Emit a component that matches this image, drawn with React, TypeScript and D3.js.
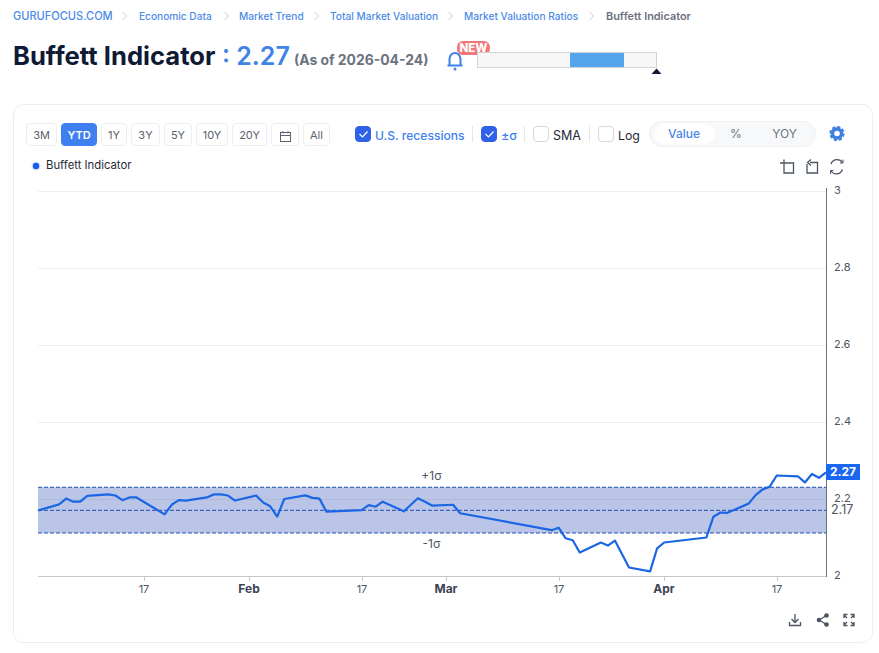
import React from "react";
import * as d3 from "d3";

const dates = ["2026-01-02","2026-01-05","2026-01-06","2026-01-07","2026-01-08","2026-01-09","2026-01-12","2026-01-13","2026-01-14","2026-01-15","2026-01-16","2026-01-20","2026-01-21","2026-01-22","2026-01-23","2026-01-26","2026-01-27","2026-01-28","2026-01-29","2026-01-30","2026-02-02","2026-02-03","2026-02-04","2026-02-05","2026-02-06","2026-02-09","2026-02-10","2026-02-11","2026-02-12","2026-02-17","2026-02-18","2026-02-19","2026-02-20","2026-02-23","2026-02-24","2026-02-25","2026-02-26","2026-02-27","2026-03-02","2026-03-03","2026-03-16","2026-03-17","2026-03-18","2026-03-19","2026-03-20","2026-03-23","2026-03-24","2026-03-25","2026-03-27","2026-03-30","2026-03-31","2026-04-01","2026-04-07","2026-04-08","2026-04-09","2026-04-10","2026-04-13","2026-04-14","2026-04-15","2026-04-16","2026-04-17","2026-04-20","2026-04-21","2026-04-22","2026-04-23","2026-04-24"];
const values = [2.170,2.186,2.201,2.193,2.193,2.208,2.212,2.209,2.197,2.204,2.204,2.160,2.185,2.197,2.196,2.204,2.212,2.212,2.209,2.196,2.209,2.191,2.181,2.154,2.200,2.2095,2.203,2.201,2.167,2.171,2.184,2.180,2.193,2.168,2.185,2.202,2.193,2.183,2.185,2.163,2.119,2.1255,2.098,2.093,2.061,2.087,2.079,2.092,2.022,2.012,2.072,2.087,2.100,2.154,2.165,2.164,2.188,2.210,2.225,2.232,2.261,2.259,2.243,2.265,2.255,2.269];
const gridTicks = [2, 2.2, 2.4, 2.6, 2.8, 3];
const sigma = { upper: 2.2305, mean: 2.1706, lower: 2.1117 };
const xTicks = [
  { date: "2026-01-17", label: "17", major: false },
  { date: "2026-02-01", label: "Feb", major: true },
  { date: "2026-02-17", label: "17", major: false },
  { date: "2026-03-01", label: "Mar", major: true },
  { date: "2026-03-17", label: "17", major: false },
  { date: "2026-04-01", label: "Apr", major: true },
  { date: "2026-04-17", label: "17", major: false },
];
const crumbs = [
  { t: "GURUFOCUS.COM", x: 13, s: 11.05 }, { t: "Economic Data", x: 139, s: 10.15 }, { t: "Market Trend", x: 239, s: 10.15 },
  { t: "Total Market Valuation", x: 330, s: 10.15 }, { t: "Market Valuation Ratios", x: 464, s: 10.15 },
];
const ranges = [
  { t: "3M", x: 26, w: 31 }, { t: "YTD", x: 61, w: 36 }, { t: "1Y", x: 101, w: 26 }, { t: "3Y", x: 131, w: 29 },
  { t: "5Y", x: 164, w: 28 }, { t: "10Y", x: 196, w: 32 }, { t: "20Y", x: 232, w: 35 }, { t: "", x: 271, w: 28 }, { t: "All", x: 303, w: 27 },
];

const FONT = "Inter, 'Noto Sans', sans-serif";
const parse = d3.utcParse("%Y-%m-%d");
const x = d3.scaleUtc().domain([parse("2026-01-02")!, parse("2026-04-24")!]).range([38, 826]);
const y = d3.scaleLinear().domain([2, 3]).range([576, 191]);
const line = d3.line<number>().x((_, i) => x(parse(dates[i])!)).y((v) => y(v));

function Check({ px, on }: { px: number; on: boolean }) {
  return (
    <g>
      <rect x={px + 0.5} y={126.5} width={15} height={15} rx={3.5} fill={on ? "#2f62e6" : "#fff"} stroke={on ? "#2f62e6" : "#d5d7db"} />
      {on && <path d={`M${px + 4.5} 134 l3 3 l5 -5.5`} fill="none" stroke="#fff" strokeWidth={1.2} />}
    </g>
  );
}

export default function App() {
  const bandX0 = x.range()[0], bandX1 = x.range()[1];
  const ic = { fill: "none", stroke: "#4b5563", strokeWidth: 1.3 };
  return (
    <svg width={879} height={653} style={{ position: "absolute", left: 0, top: 0, fontFamily: FONT }}>
      <rect width={879} height={653} fill="#fff" />
      {crumbs.map((c) => (
        <text key={c.t} x={c.x} y={20} fontSize={c.s} fontWeight={500} fill="#4c8be8">{c.t}</text>
      ))}
      <text x={606} y={20} fontSize={10.9} fontWeight={600} fill="#6b7280">Buffett Indicator</text>
      {[124, 226, 316, 450, 591].map((cx) => (
        <path key={cx} d={`M${cx - 1.5} 12 l4 4 l-4 4`} fill="none" stroke="#c4c7cc" strokeWidth={1} />
      ))}
      <text x={13} y={65} fontSize={25.6} fontWeight={700} fill="#0f1a35">Buffett Indicator</text>
      <text x={222} y={65} fontSize={25} fontWeight={600} fill="#3f83e6">: 2.27</text>
      <text x={294} y={65} fontSize={13.9} fontWeight={700} fill="#6b7280">(As of 2026-04-24)</text>

      <path d="M449.5 65 v-6 a5.5 6 0 0 1 11 0 V65 M447.5 65.500 H462.500 M455 53.500 v-1" fill="none" stroke="#3f83e6" strokeWidth={2} />
      <circle cx={455} cy={69} r={1.5} fill="#3f83e6" />
      <rect x={457} y={41} width={33} height={14} rx={6} fill="#f0787a" />
      <text x={473.500} y={52} textAnchor="middle" fontSize={11.5} fontWeight={800} fill="#fff">NEW</text>
      <rect x={477.500} y={52.500} width={179} height={15} fill="#f7f7f8" stroke="#cfd2d6" />
      <rect x={570} y={53} width={54} height={14} fill="#55a5ec" />
      <path d="M651.500 74 L656.500 68.500 L661.500 74 Z" fill="#0f1a35" />

      <rect x={13.500} y={104.500} width={859} height={538} rx={10} fill="#fff" stroke="#eceef0" />

      {ranges.map((r) => {
        const active = r.t === "YTD";
        return (
          <g key={r.x}>
            <rect x={r.x + 0.5} y={123.500} width={r.w - 1} height={22} rx={3.5} fill={active ? "#3f7ff0" : "#fff"} stroke={active ? "#3f7ff0" : "#eceef0"} />
            {r.t && <text x={r.x + r.w / 2} y={139} textAnchor="middle" fontSize={11} fontWeight={active ? 600 : 400} fill={active ? "#fff" : "#5b6270"}>{r.t}</text>}
          </g>
        );
      })}
      <g fill="none" stroke="#5b6270" strokeWidth={1}>
        <rect x={280.500} y={132.500} width={10} height={9} />
        <path d="M280.500 135.500 H290.500 M283 131 v2.500 M288 131 v2.500" />
      </g>

      <Check px={355} on />
      <text x={375} y={140} fontSize={12.1} fill="#3f7ff0" fontWeight={500}>U.S. recessions</text>
      <line x1={472.500} x2={472.500} y1={126} y2={142} stroke="#e5e7eb" />
      <Check px={481} on />
      <text x={501} y={140} fontSize={12.5} fill="#3f7ff0" fontWeight={500}>±σ</text>
      <line x1={524.500} x2={524.500} y1={126} y2={142} stroke="#e5e7eb" />
      <Check px={533} on={false} />
      <text x={553} y={140} fontSize={12.5} fill="#1f2937">SMA</text>
      <line x1={589.500} x2={589.500} y1={126} y2={142} stroke="#e5e7eb" />
      <Check px={598} on={false} />
      <text x={618} y={140} fontSize={12.3} fill="#1f2937">Log</text>

      <rect x={649.500} y={121.500} width={166} height={25} rx={12.5} fill="#f7f8f9" stroke="#eff0f2" />
      <rect x={654} y={124} width={61} height={20} rx={10} fill="#fff" />
      <text x={684} y={138} textAnchor="middle" fontSize={12} fontWeight={500} fill="#4a86e8">Value</text>
      <text x={736} y={138} textAnchor="middle" fontSize={12} fill="#6b7280">%</text>
      <text x={784.500} y={138} textAnchor="middle" fontSize={12} fill="#6b7280">YOY</text>
      <circle cx={837} cy={133.500} r={4.500} fill="none" stroke="#3f7fe0" strokeWidth={3.400} />
      <circle cx={837} cy={133.500} r={6.600} fill="none" stroke="#3f7fe0" strokeWidth={2} strokeDasharray="3.200 1.980" />

      <circle cx={36} cy={166} r={4.500} fill="#c8d8f8" fillOpacity={0.7} />
      <circle cx={36} cy={166} r={3.200} fill="#1a5fe8" />
      <text x={46} y={169} fontSize={11.3} fill="#1f2937">Buffett Indicator</text>

      <g {...ic}>
        <path d="M780 163 H793.500 V173 H784 V159.500" />
        <path d="M810 162.500 H817.500 V173 H807 V164" />
        <path d="M811 159.500 l-3.500 3 l3.500 3" />
        <path d="M831 164 a6.500 6.500 0 0 1 11.500 -1.500 M842.500 169.500 a6.500 6.500 0 0 1 -11.500 1.500" />
        <path d="M843 159.500 v3.500 h-3 M830.500 174 v-3.500 h3" strokeWidth={1} />
      </g>

      {gridTicks.slice(1).map((t) => (
        <line key={t} x1={bandX0} x2={bandX1} y1={y(t) + 0.5} y2={y(t) + 0.5} stroke="#eeeff1" />
      ))}
      <rect x={bandX0} width={bandX1 - bandX0} y={y(sigma.upper)} height={y(sigma.lower) - y(sigma.upper)} fill="#2d4bb4" fillOpacity={0.32} />
      {[sigma.upper, sigma.mean, sigma.lower].map((s) => (
        <line key={s} x1={bandX0} x2={bandX1} y1={y(s)} y2={y(s)} stroke="#1b4fb0" strokeWidth={1} strokeDasharray="4 2" />
      ))}
      <text x={431.500} y={480} textAnchor="middle" fontSize={12} fill="#4b5563">+1σ</text>
      <text x={431.500} y={548} textAnchor="middle" fontSize={12} fill="#4b5563">-1σ</text>

      <line x1={bandX0} x2={bandX1} y1={576.500} y2={576.500} stroke="#c4c8ce" />
      <line x1={826.500} x2={826.500} y1={188} y2={577} stroke="#6b7280" />
      {xTicks.map((t) => {
        const px = Math.round(x(parse(t.date)!)) + 0.5;
        return (
          <g key={t.date}>
            <line x1={px} x2={px} y1={576} y2={581} stroke="#c4c8ce" />
            <text x={px - 0.5} y={593} textAnchor="middle" fontSize={t.major ? 12 : 11} fontWeight={t.major ? 700 : 400} fill={t.major ? "#3d4454" : "#4b5563"}>{t.label}</text>
          </g>
        );
      })}
      {gridTicks.map((t) => (
        <text key={t} x={834} y={y(t) + 3} fontSize={11} fill="#4b5563">{String(t)}</text>
      ))}
      <text x={831} y={514} fontSize={12.5} fill="#4b5563">2.17</text>

      <path d={line(values)!} fill="none" stroke="#1a66e4" strokeWidth={2.2} strokeLinejoin="round" />

      <rect x={826} y={464} width={34} height={16} fill="#1a66f0" />
      <text x={843} y={476} textAnchor="middle" fontSize={12} fontWeight={700} fill="#fff">2.27</text>

      <g {...ic}>
        <path d="M795 614 v8 M791.500 619 l3.500 3.500 l3.500 -3.500 M789.500 622 v3.500 h11 v-3.500" />
        <path d="M826.500 615.500 l-7.500 4.500 l7.500 4.500" />
        <path d="M844 615 l3 3 M854 615 l-3 3 M844 625 l3 -3 M854 625 l-3 -3 M844 618 v-3.500 h3.500 M850.500 614.500 h3.500 v3.500 M844 622 v3.500 h3.500 M850.500 625.500 h3.500 v-3.500" />
      </g>
      <circle cx={819} cy={620} r={2.300} fill="#4b5563" />
      <circle cx={826.500} cy={615.500} r={2.300} fill="#4b5563" />
      <circle cx={826.500} cy={624.500} r={2.300} fill="#4b5563" />
    </svg>
  );
}
